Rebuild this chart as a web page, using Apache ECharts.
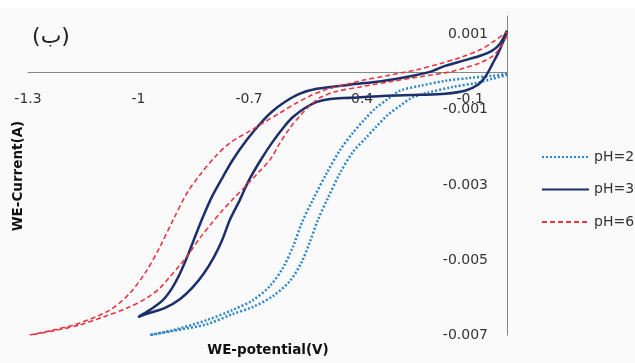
<!DOCTYPE html>
<html>
<head>
<meta charset="utf-8">
<script src="https://cdn.jsdelivr.net/npm/echarts@6/dist/echarts.min.js"></script>
<style>html,body{margin:0;padding:0;background:#fafafa;}#c{width:635px;height:363px;}</style>
</head>
<body>
<div id="c"></div>
<script>
// ---- data (potential V, current A) ----
const xTicks = [-1.3, -1, -0.7, -0.4, -0.1];
const yTicks = [-0.007, -0.005, -0.003, -0.001, 0.001];
const seriesNames = ['pH=2', 'pH=3', 'pH=6'];

const ph2Pot = [0, -0.038, -0.100, -0.168, -0.236, -0.290, -0.323, -0.356, -0.385, -0.418, -0.453, -0.489, -0.527, -0.556, -0.581, -0.608, -0.643, -0.689, -0.744, -0.814, -0.906, -0.969,
  -0.906, -0.814, -0.744, -0.689, -0.635, -0.589, -0.557, -0.535, -0.513, -0.486, -0.453, -0.418, -0.385, -0.353, -0.323, -0.290, -0.258, -0.217, -0.147, -0.081, -0.038, 0];
const ph2Cur = [-0.00004, -0.00009, -0.00015, -0.00023, -0.00036, -0.00049, -0.00071, -0.00095, -0.00124, -0.00161, -0.00207, -0.00268, -0.00340, -0.00399, -0.00465, -0.00521, -0.00569, -0.00607, -0.00633, -0.00660, -0.00687, -0.00700,
  -0.00689, -0.00671, -0.00644, -0.00625, -0.00596, -0.00556, -0.00505, -0.00452, -0.00393, -0.00335, -0.00268, -0.00212, -0.00177, -0.00143, -0.00113, -0.00089, -0.00068, -0.00055, -0.00039, -0.00028, -0.00017, -0.00007];

const ph3Pot = [0, -0.008, -0.022, -0.038, -0.057, -0.079, -0.114, -0.168, -0.236, -0.337, -0.426, -0.480, -0.516, -0.548, -0.581, -0.605, -0.638, -0.668, -0.700, -0.725, -0.752, -0.773, -0.795, -0.822, -0.852, -0.887, -0.928, -0.969, -1.001,
  -0.969, -0.934, -0.909, -0.887, -0.866, -0.847, -0.825, -0.801, -0.776, -0.744, -0.706, -0.670, -0.638, -0.603, -0.562, -0.516, -0.426, -0.337, -0.255, -0.209, -0.168, -0.119, -0.073, -0.041, -0.019, 0];
const ph3Cur = [0.00111, 0.00087, 0.00055, 0.00025, -0.00009, -0.00033, -0.00049, -0.00057, -0.00060, -0.00063, -0.00068, -0.00071, -0.00079, -0.00095, -0.00119, -0.00145, -0.00188, -0.00233, -0.00287, -0.00340, -0.00393, -0.00447, -0.00492, -0.00535, -0.00572, -0.00604, -0.00628, -0.00641, -0.00652,
  -0.00633, -0.00607, -0.00575, -0.00535, -0.00487, -0.00439, -0.00385, -0.00332, -0.00287, -0.00233, -0.00180, -0.00137, -0.00105, -0.00079, -0.00057, -0.00044, -0.00033, -0.00023, -0.00009, 0.00001, 0.00017, 0.00031, 0.00044, 0.00057, 0.00076, 0.00111];

const ph6Pot = [0, -0.019, -0.038, -0.073, -0.114, -0.155, -0.236, -0.318, -0.399, -0.467, -0.508, -0.535, -0.562, -0.589, -0.616, -0.643, -0.673, -0.706, -0.741, -0.773, -0.803, -0.833, -0.860, -0.887, -0.915, -0.942, -0.977, -1.031, -1.096, -1.159, -1.232, -1.295,
  -1.232, -1.159, -1.077, -1.023, -0.977, -0.942, -0.906, -0.868, -0.833, -0.792, -0.752, -0.697, -0.657, -0.616, -0.575, -0.535, -0.494, -0.440, -0.385, -0.326, -0.244, -0.182, -0.128, -0.073, -0.038, 0];
const ph6Cur = [0.00097, 0.00065, 0.00044, 0.00025, 0.00012, 0.00001, -0.00012, -0.00025, -0.00039, -0.00052, -0.00068, -0.00089, -0.00116, -0.00148, -0.00188, -0.00233, -0.00265, -0.00300, -0.00335, -0.00369, -0.00404, -0.00441, -0.00479, -0.00513, -0.00545, -0.00575, -0.00601, -0.00628, -0.00652, -0.00673, -0.00689, -0.00700,
  -0.00687, -0.00668, -0.00633, -0.00588, -0.00527, -0.00465, -0.00393, -0.00321, -0.00273, -0.00225, -0.00188, -0.00156, -0.00132, -0.00108, -0.00084, -0.00063, -0.00047, -0.00033, -0.00020, -0.00009, 0.00007, 0.00023, 0.00039, 0.00060, 0.00081, 0.00108];

function zip(a, b) { return a.map((v, i) => [v, b[i]]); }

const Y_MIN = -0.007, Y_MAX = 0.0015;
const GRID_TOP = 16, GRID_BOTTOM = 28, H = 363;
const plotH = H - GRID_TOP - GRID_BOTTOM;
const zeroOffset = plotH * (Y_MAX / (Y_MAX - Y_MIN)); // distance from grid top to y = 0

const FONT = 'DejaVu Sans';
const chart = echarts.init(document.getElementById('c'), null, { renderer: 'canvas' });
chart.setOption({
  backgroundColor: '#fafafa',
  animation: false,
  grid: { left: 28, right: 128, top: GRID_TOP, bottom: GRID_BOTTOM, containLabel: false, outerBoundsMode: 'none' },
  xAxis: {
    type: 'value', min: -1.3, max: 0, position: 'top', offset: -zeroOffset,
    axisLine: { onZero: false, lineStyle: { color: '#868686', width: 1 } },
    axisTick: { show: false },
    splitLine: { show: false },
    axisLabel: { inside: true, customValues: xTicks, margin: 20, fontSize: 14, color: '#333', fontFamily: FONT,
      formatter: v => String(+Number(v).toFixed(1)) }
  },
  yAxis: {
    type: 'value', min: Y_MIN, max: Y_MAX, position: 'right',
    axisLine: { onZero: false, lineStyle: { color: '#868686', width: 1 } },
    axisTick: { show: false },
    splitLine: { show: false },
    axisLabel: { inside: true, customValues: yTicks, margin: 19, fontSize: 14, color: '#333', fontFamily: FONT,
      formatter: v => Number(v).toFixed(3) }
  },
  legend: {
    orient: 'vertical', left: 541, top: 150, padding: 0, itemWidth: 47, itemHeight: 14, itemGap: 18.5,
    itemStyle: { opacity: 0 },
    textStyle: { fontSize: 14, color: '#333', fontFamily: FONT },
    data: seriesNames
  },
  series: [
    { name: seriesNames[0], type: 'line', symbol: 'none', smooth: 0.3, data: zip(ph2Pot, ph2Cur),
      lineStyle: { color: '#2f87c9', width: 2.5, type: [2, 2] }, itemStyle: { color: '#2f87c9' } },
    { name: seriesNames[1], type: 'line', symbol: 'none', smooth: 0.3, data: zip(ph3Pot, ph3Cur),
      lineStyle: { color: '#1b2f6b', width: 2.5 }, itemStyle: { color: '#1b2f6b' } },
    { name: seriesNames[2], type: 'line', symbol: 'none', smooth: 0.3, data: zip(ph6Pot, ph6Cur),
      lineStyle: { color: '#e8363f', width: 1.6, type: [5, 3] }, itemStyle: { color: '#e8363f' } }
  ],
  graphic: [
    { type: 'rect', left: 0, top: 0, shape: { width: 635, height: 8 }, style: { fill: '#ffffff' }, z: -1 },
    { type: 'text', x: 51, y: 37, style: { text: '(ب)', font: '22px "DejaVu Sans"', fill: '#222', textAlign: 'center', textVerticalAlign: 'middle' } },
    { type: 'text', x: 268, y: 350, style: { text: 'WE-potential(V)', font: 'bold 13.5px "DejaVu Sans"', fill: '#111', textAlign: 'center', textVerticalAlign: 'middle' } },
    { type: 'text', x: 18, y: 176, rotation: Math.PI / 2, style: { text: 'WE-Current(A)', font: 'bold 13.5px "DejaVu Sans"', fill: '#111', textAlign: 'center', textVerticalAlign: 'middle' } }
  ]
});
</script>
</body>
</html>
